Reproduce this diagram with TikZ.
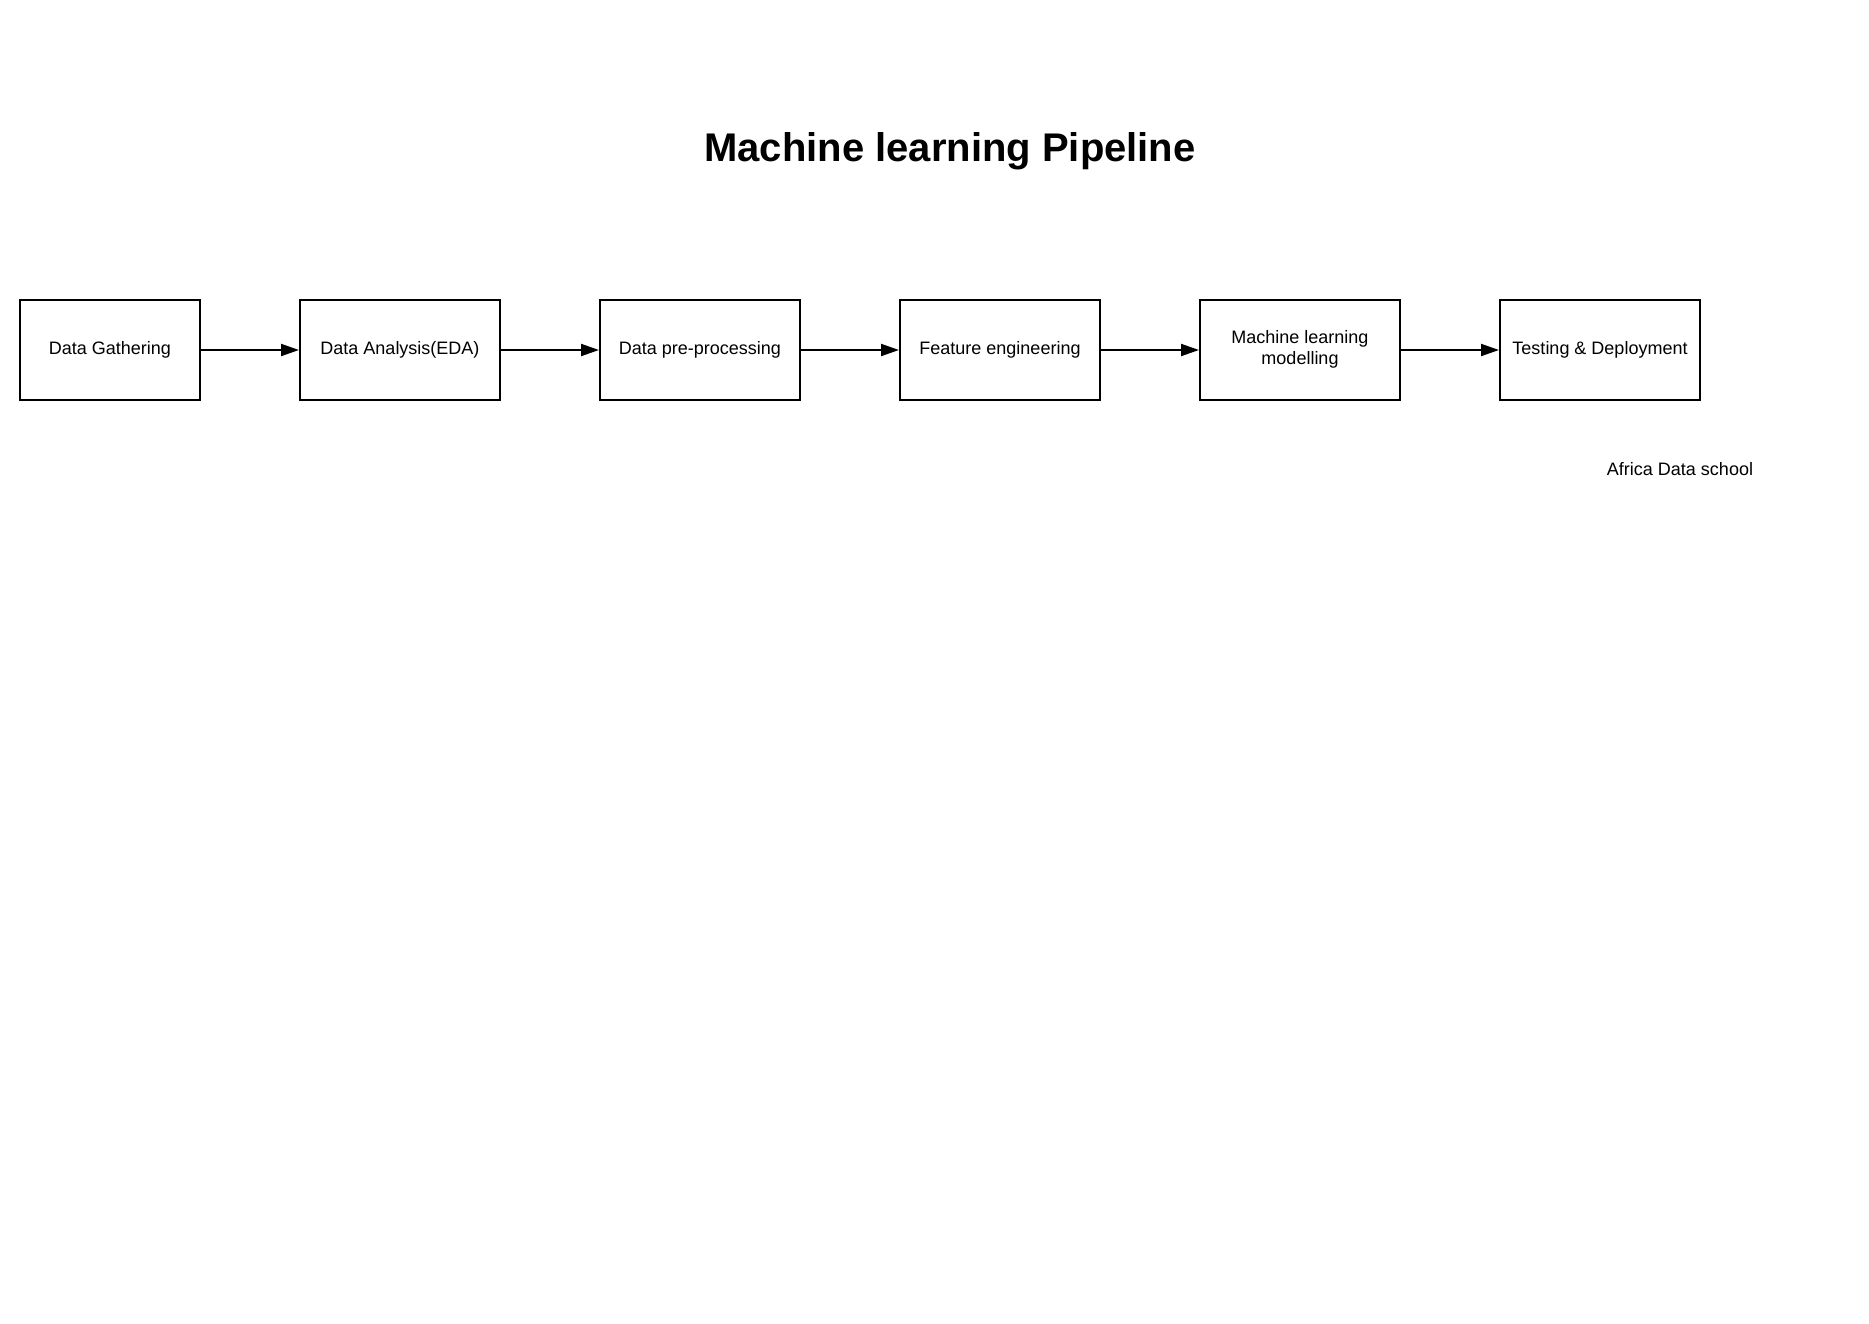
\documentclass[tikz,border=0pt]{standalone}
\usepackage{fontspec}
\setmainfont{Liberation Sans}
\usetikzlibrary{arrows.meta}
\begin{document}
\begin{tikzpicture}[x=1pt,y=-1pt,
  stepbox/.style={draw,line width=2pt,minimum height=100pt,inner sep=0pt,align=center,font=\fontsize{18}{21.6}\selectfont},
  flow/.style={line width=2pt,-{Triangle[length=18pt,width=12pt]}}]
\useasboundingbox (0,0) rectangle (1869,1323);
\node[anchor=base,font=\fontsize{40}{48}\selectfont\bfseries] (title) at (950,161) {Machine learning Pipeline};
\node[stepbox,minimum width=180pt] (b1) at (110,350) {};
\node[stepbox,minimum width=200pt] (b2) at (400,350) {};
\node[stepbox,minimum width=200pt] (b3) at (700,350) {};
\node[stepbox,minimum width=200pt] (b4) at (1000,350) {};
\node[stepbox,minimum width=200pt] (b5) at (1300,350) {};
\node[stepbox,minimum width=200pt] (b6) at (1600,350) {};
\begin{scope}[every node/.style={align=center,font=\fontsize{18}{21.6}\selectfont}]
\node (t1) at (110,349.5) {Data Gathering};
\node (t2) at (400,349.5) {Data Analysis(EDA)};
\node (t3) at (700,349.5) {Data pre-processing};
\node (t4) at (1000,349.5) {Feature engineering};
\node (t5) at (1300,349.5) {Machine learning\\modelling};
\node (t6) at (1600,349.5) {Testing \& Deployment};
\node (adsch) at (1680,469) {Africa Data school};
\end{scope}
\draw[flow] (b1.east) -- (b2.west);
\draw[flow] (b2.east) -- (b3.west);
\draw[flow] (b3.east) -- (b4.west);
\draw[flow] (b4.east) -- (b5.west);
\draw[flow] (b5.east) -- (b6.west);
\end{tikzpicture}
\end{document}
